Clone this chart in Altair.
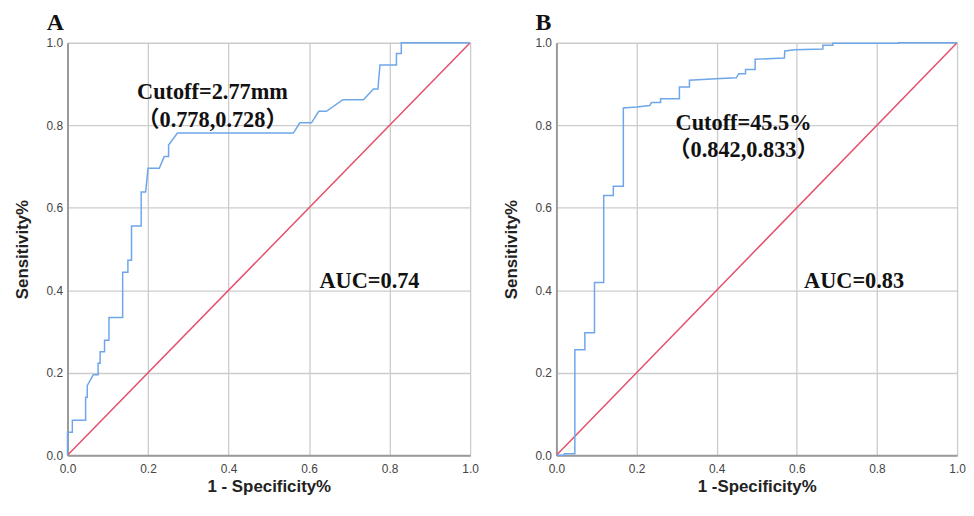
import altair as alt
import pandas as pd

# Panel A ROC curve (1 - specificity, sensitivity)
a_fpr = [0, 0, 0.012, 0.012, 0.045, 0.045, 0.049, 0.049, 0.064, 0.076, 0.076, 0.081, 0.081,
         0.092, 0.092, 0.103, 0.103, 0.137, 0.137, 0.150, 0.150, 0.159, 0.159, 0.183, 0.183,
         0.194, 0.200, 0.228, 0.240, 0.251, 0.251, 0.273, 0.561, 0.577, 0.606, 0.624, 0.643,
         0.684, 0.735, 0.760, 0.771, 0.776, 0.817, 0.817, 0.829, 0.829, 1.0]
a_tpr = [0, 0.056, 0.056, 0.085, 0.085, 0.141, 0.141, 0.169, 0.195, 0.195, 0.223, 0.223, 0.251,
         0.251, 0.279, 0.279, 0.334, 0.334, 0.444, 0.444, 0.473, 0.473, 0.556, 0.556, 0.638,
         0.638, 0.696, 0.696, 0.724, 0.724, 0.752, 0.781, 0.781, 0.806, 0.806, 0.834, 0.834,
         0.862, 0.862, 0.888, 0.888, 0.946, 0.946, 0.974, 0.974, 1.0, 1.0]

# Panel B ROC curve
b_fpr = [0, 0.02, 0.02, 0.046, 0.046, 0.071, 0.071, 0.095, 0.095, 0.118, 0.118, 0.142, 0.142,
         0.167, 0.167, 0.2, 0.233, 0.237, 0.26, 0.26, 0.307, 0.307, 0.332, 0.332, 0.398, 0.449,
         0.455, 0.472, 0.472, 0.496, 0.496, 0.569, 0.57, 0.595, 0.665, 0.665, 0.69, 0.69, 0.854,
         0.854, 1.0]
b_tpr = [0, 0, 0.004, 0.004, 0.256, 0.256, 0.297, 0.297, 0.419, 0.419, 0.630, 0.630, 0.652,
         0.652, 0.842, 0.844, 0.848, 0.855, 0.855, 0.864, 0.864, 0.893, 0.893, 0.909, 0.913, 0.915,
         0.925, 0.925, 0.935, 0.935, 0.96, 0.963, 0.98, 0.983, 0.985, 0.994, 0.994, 0.999, 0.999,
         1.0, 1.0]

ref_x = [0, 1]
ref_y = [0, 1]

ticks = [0, 0.2, 0.4, 0.6, 0.8, 1.0]

a_notes = ["Cutoff=2.77mm", "（0.778,0.728）", "AUC=0.74"]
a_note_x = [0.36, 0.36, 0.75]
a_note_y = [0.864, 0.797, 0.405]
b_notes = ["Cutoff=45.5%", "（0.842,0.833）", "AUC=0.83"]
b_note_x = [0.467, 0.467, 0.743]
b_note_y = [0.788, 0.723, 0.406]

BLUE = "#6fa6ea"
RED = "#e4506c"
SERIF = "Liberation Serif, Times New Roman, Noto Sans CJK SC"


def panel(letter, fpr, tpr, notes, nx, ny, xtitle, width):
    curve = pd.DataFrame({"x": fpr, "y": tpr, "i": list(range(len(fpr)))})
    ref = pd.DataFrame({"x": ref_x, "y": ref_y, "i": [0, 1]})
    txt = pd.DataFrame({"x": nx, "y": ny, "t": notes})

    xscale = alt.Scale(domain=[0, 1], nice=False)
    yscale = alt.Scale(domain=[0, 1], nice=False)
    xaxis = alt.Axis(title=xtitle, values=ticks, format=".1f", labelFlush=False,
                     labelOverlap=False, ticks=False, labelPadding=8, titlePadding=5)
    yaxis = alt.Axis(title="Sensitivity%", values=ticks, format=".1f", labelFlush=False,
                     labelOverlap=False, ticks=False, labelPadding=5, titlePadding=15)

    base_ref = alt.Chart(ref).mark_line(color=RED, strokeWidth=1.5).encode(
        x=alt.X("x:Q", scale=xscale, axis=xaxis),
        y=alt.Y("y:Q", scale=yscale, axis=yaxis),
        order="i:Q",
    )
    line = alt.Chart(curve).mark_line(color=BLUE, strokeWidth=1.5).encode(
        x=alt.X("x:Q", scale=xscale, axis=xaxis),
        y=alt.Y("y:Q", scale=yscale, axis=yaxis),
        order="i:Q",
    )
    text = alt.Chart(txt).mark_text(font=SERIF, fontSize=22.5, fontWeight="bold",
                                    color="#111", baseline="alphabetic", align="center").encode(
        x=alt.X("x:Q", scale=xscale, axis=xaxis),
        y=alt.Y("y:Q", scale=yscale, axis=yaxis),
        text="t:N",
    )
    return alt.layer(base_ref, line, text).properties(
        width=width, height=416,
        title=alt.TitleParams(text=letter, anchor="start", frame="group", font=SERIF,
                              fontSize=24, fontWeight="bold", color="#111", dx=-21,
                              offset=-17, baseline="alphabetic"),
    )


chart = alt.hconcat(
    panel("A", a_fpr, a_tpr, a_notes, a_note_x, a_note_y, "1 - Specificity%", 406),
    panel("B", b_fpr, b_tpr, b_notes, b_note_x, b_note_y, "1 -Specificity%", 404),
    spacing=87, bounds="flush",
).properties(
    padding={"left": 5, "top": 1, "right": 0, "bottom": 0}
).configure_view(stroke=None).configure_axis(
    gridColor="#cccccc", gridWidth=1.3, domainColor="#9a9a9a", domainWidth=2,
    labelFont="Liberation Sans Narrow, Liberation Sans, Arial", labelFontSize=12,
    labelColor="#444444", titleFont="Liberation Sans, Arial", titleFontSize=17,
    titleFontWeight="bold", titleColor="#222222",
).configure_axisX(domain=True).configure_axisY(domain=True)

chart.save("out.html", embed_options={"renderer": "svg", "actions": False})
